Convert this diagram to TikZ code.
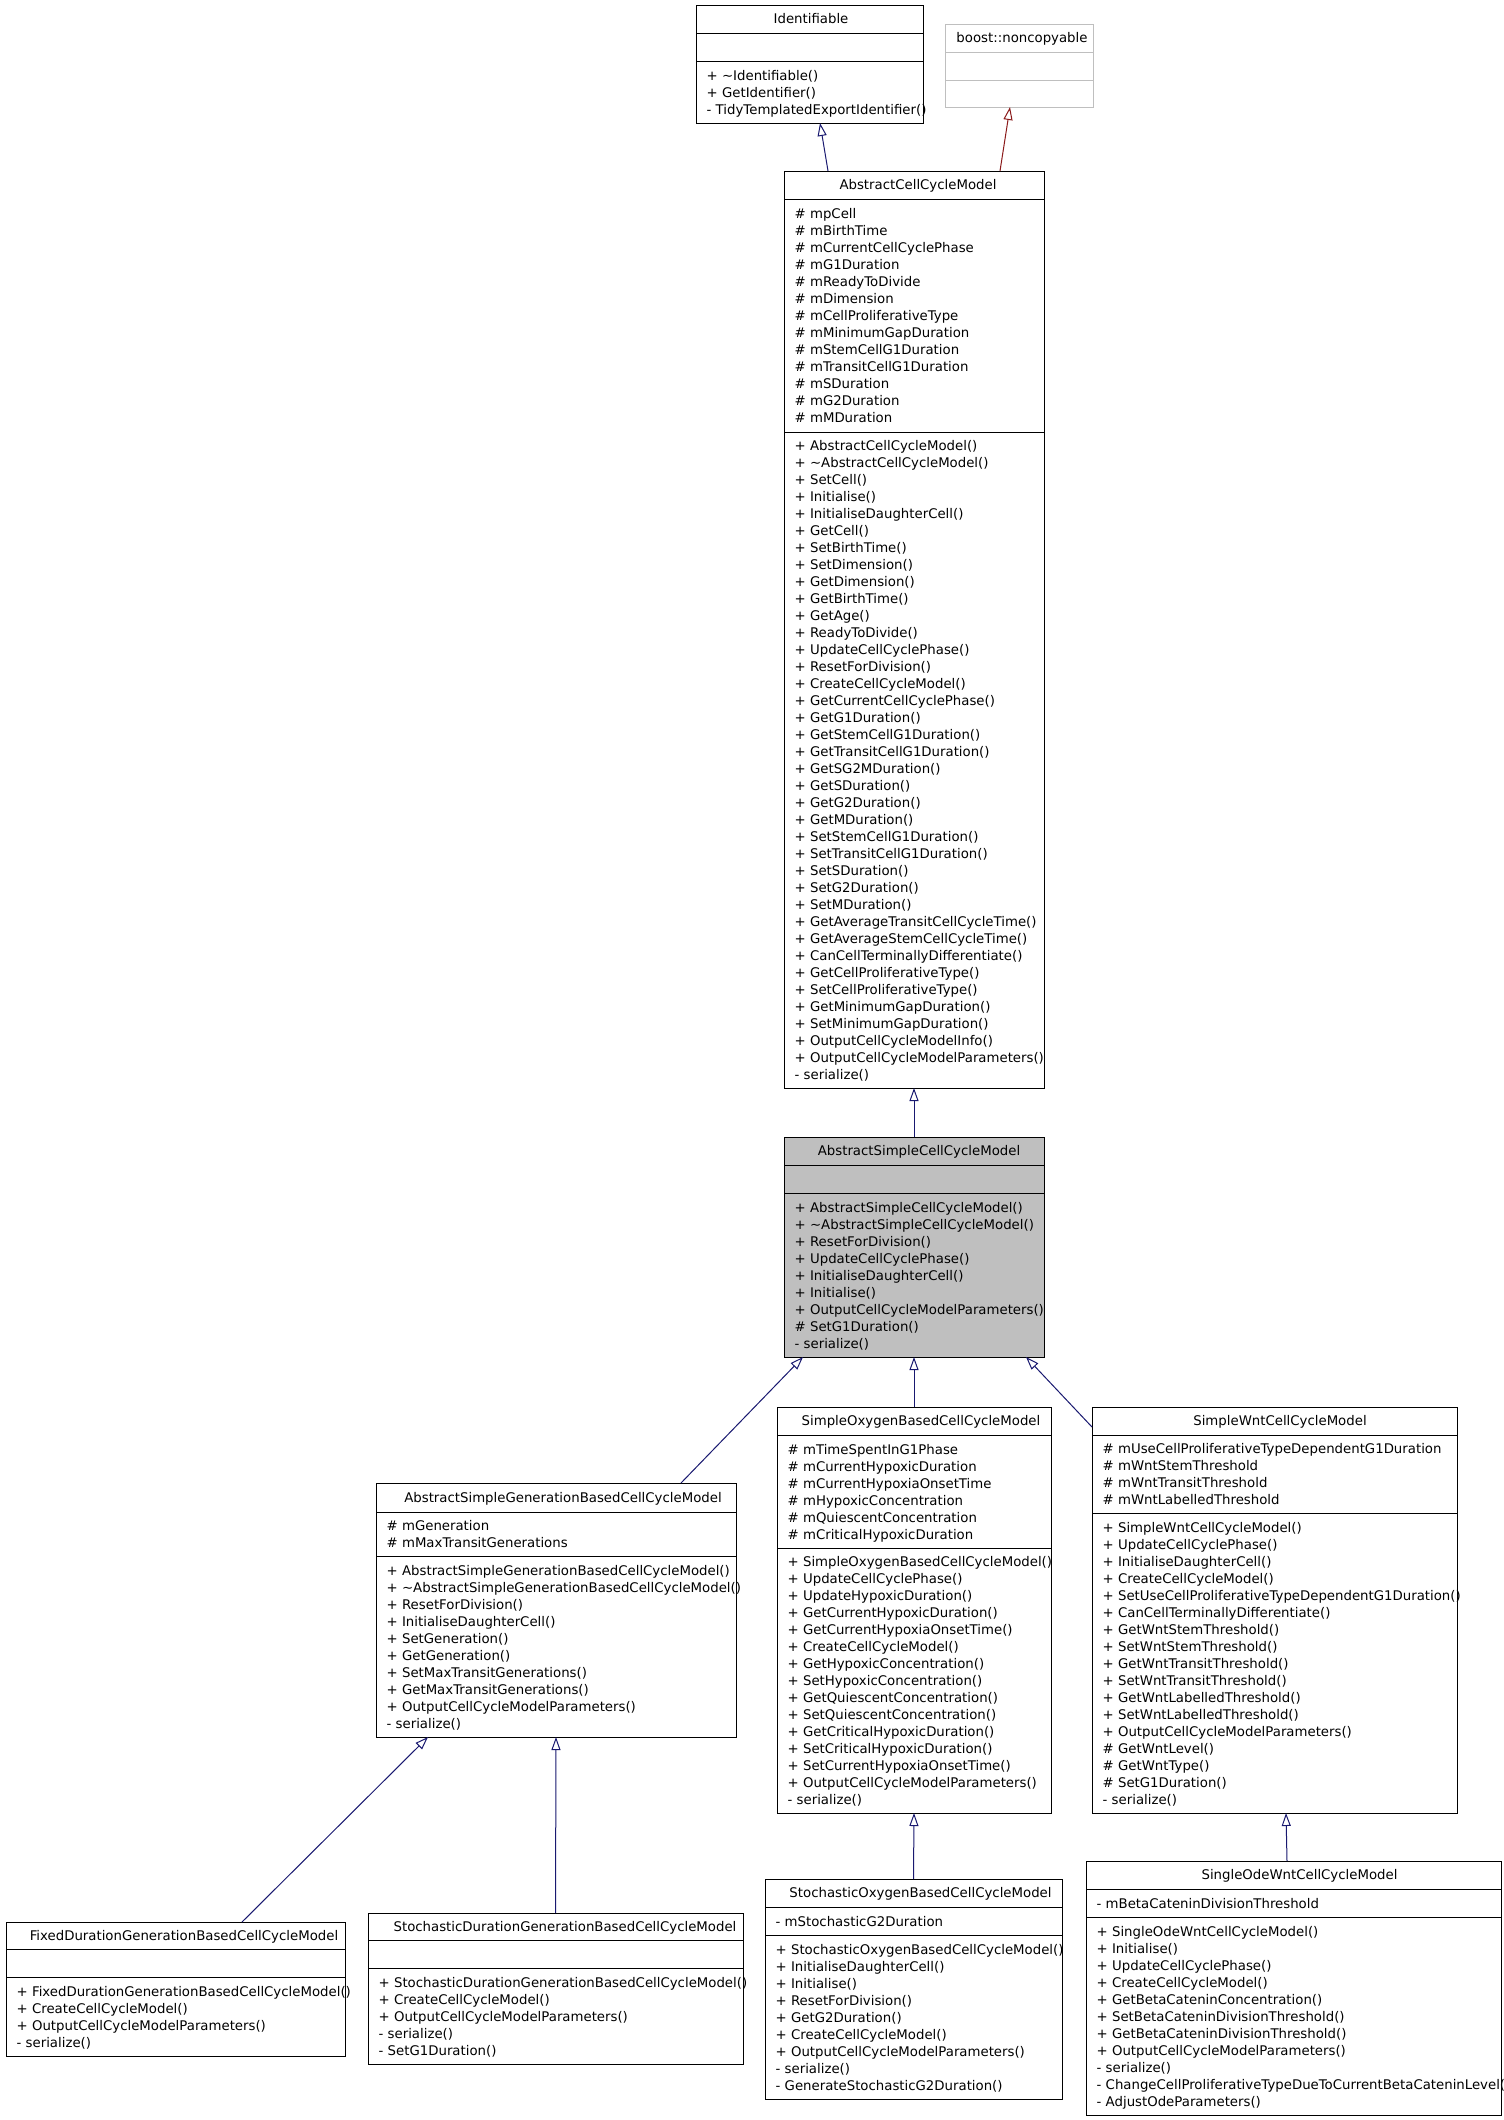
\documentclass[tikz,border=0pt]{standalone}
\usepackage{fontspec}
\setmainfont{DejaVu Sans}
\usetikzlibrary{arrows.meta}
\definecolor{navy}{HTML}{191970}
\definecolor{fbrick}{HTML}{8B1A1A}
\definecolor{dgray}{HTML}{BFBFBF}
\tikzset{
  cbox/.style={draw, line width=1pt, inner sep=0pt, outer sep=0pt, anchor=north west, fill=white},
  memtext/.style={anchor=north west, align=left, inner sep=0pt, font=\fontsize{13.3}{17}\selectfont},
  ttext/.style={anchor=base, inner sep=0pt, font=\fontsize{13.3}{17}\selectfont},
  rowline/.style={line width=1pt},
  inh/.style={draw=navy, line width=1pt, -{Triangle[open,length=13pt,width=9pt]}},
}
\newcommand\mlist[6]{\node[memtext] (#1) at ({#2+10.5},{#3+(#4-#3-(#5-1)*17)/2-8.15}) {\rule{0pt}{13pt}#6};}
\newcommand\ttl[4]{\node[ttext] (#1) at (#2,{#3+4.85}) {#4};}
\begin{document}
\begin{tikzpicture}[x=1pt,y=-1pt]
\useasboundingbox (0,0) rectangle (1504,2120);
\clip (0,0) rectangle (1504,2120);
\fill[white] (0,0) rectangle (1504,2120);

% ---------- boxes ----------
\node[cbox, minimum width=227pt, minimum height=118pt] (ident) at (696,5) {};
\node[cbox, draw=dgray, minimum width=148pt, minimum height=83pt] (nonc) at (945,24) {};
\node[cbox, minimum width=260pt, minimum height=917pt] (acm) at (784,171) {};
\node[cbox, fill=dgray, minimum width=260pt, minimum height=220pt] (ascm) at (784,1137) {};
\node[cbox, minimum width=360pt, minimum height=254pt] (gen) at (376,1483) {};
\node[cbox, minimum width=274pt, minimum height=406pt] (oxy) at (777,1407) {};
\node[cbox, minimum width=365pt, minimum height=406pt] (wnt) at (1092,1407) {};
\node[cbox, minimum width=339pt, minimum height=134pt] (fixed) at (6,1922) {};
\node[cbox, minimum width=375pt, minimum height=151pt] (sdur) at (368,1913) {};
\node[cbox, minimum width=297pt, minimum height=220pt] (soxy) at (765,1879) {};
\node[cbox, minimum width=415pt, minimum height=254pt] (sode) at (1086,1861) {};

% ---------- compartment lines ----------
\draw[rowline] (696,33) -- (923,33) (696,61) -- (923,61);
\draw[rowline, dgray] (945,52) -- (1093,52) (945,80) -- (1093,80);
\draw[rowline] (784,199) -- (1044,199) (784,432) -- (1044,432);
\draw[rowline] (784,1165) -- (1044,1165) (784,1193) -- (1044,1193);
\draw[rowline] (376,1512) -- (736,1512) (376,1556) -- (736,1556);
\draw[rowline] (777,1435) -- (1051,1435) (777,1548) -- (1051,1548);
\draw[rowline] (1092,1435) -- (1457,1435) (1092,1513) -- (1457,1513);
\draw[rowline] (6,1949) -- (345,1949) (6,1977) -- (345,1977);
\draw[rowline] (368,1940) -- (743,1940) (368,1968) -- (743,1968);
\draw[rowline] (765,1907) -- (1062,1907) (765,1935) -- (1062,1935);
\draw[rowline] (1086,1889) -- (1501,1889) (1086,1917) -- (1501,1917);

% ---------- titles ----------
\ttl{ident-t}{811}{19}{Identifiable}
\ttl{nonc-t}{1022}{38}{boost::noncopyable}
\ttl{acm-t}{918}{185}{AbstractCellCycleModel}
\ttl{ascm-t}{919}{1151}{AbstractSimpleCellCycleModel}
\ttl{gen-t}{563}{1497.5}{AbstractSimpleGenerationBasedCellCycleModel}
\ttl{oxy-t}{921}{1421}{SimpleOxygenBasedCellCycleModel}
\ttl{wnt-t}{1280}{1421}{SimpleWntCellCycleModel}
\ttl{fixed-t}{184}{1935.5}{FixedDurationGenerationBasedCellCycleModel}
\ttl{sdur-t}{565}{1926.5}{StochasticDurationGenerationBasedCellCycleModel}
\ttl{soxy-t}{920.5}{1893}{StochasticOxygenBasedCellCycleModel}
\ttl{sode-t}{1299.5}{1875}{SingleOdeWntCellCycleModel}

% ---------- members ----------
\mlist{ident-m}{696}{61}{123}{3}{+ \textasciitilde Identifiable()\\+ GetIdentifier()\\- TidyTemplatedExportIdentifier()}

\mlist{acm-a}{784}{199}{432}{13}{\# mpCell\\\# mBirthTime\\\# mCurrentCellCyclePhase\\\# mG1Duration\\\# mReadyToDivide\\\# mDimension\\\# mCellProliferativeType\\\# mMinimumGapDuration\\\# mStemCellG1Duration\\\# mTransitCellG1Duration\\\# mSDuration\\\# mG2Duration\\\# mMDuration}

\mlist{acm-m}{784}{432}{1088}{38}{+ AbstractCellCycleModel()\\+ \textasciitilde AbstractCellCycleModel()\\+ SetCell()\\+ Initialise()\\+ InitialiseDaughterCell()\\+ GetCell()\\+ SetBirthTime()\\+ SetDimension()\\+ GetDimension()\\+ GetBirthTime()\\+ GetAge()\\+ ReadyToDivide()\\+ UpdateCellCyclePhase()\\+ ResetForDivision()\\+ CreateCellCycleModel()\\+ GetCurrentCellCyclePhase()\\+ GetG1Duration()\\+ GetStemCellG1Duration()\\+ GetTransitCellG1Duration()\\+ GetSG2MDuration()\\+ GetSDuration()\\+ GetG2Duration()\\+ GetMDuration()\\+ SetStemCellG1Duration()\\+ SetTransitCellG1Duration()\\+ SetSDuration()\\+ SetG2Duration()\\+ SetMDuration()\\+ GetAverageTransitCellCycleTime()\\+ GetAverageStemCellCycleTime()\\+ CanCellTerminallyDifferentiate()\\+ GetCellProliferativeType()\\+ SetCellProliferativeType()\\+ GetMinimumGapDuration()\\+ SetMinimumGapDuration()\\+ OutputCellCycleModelInfo()\\+ OutputCellCycleModelParameters()\\- serialize()}

\mlist{ascm-m}{784}{1193}{1357}{9}{+ AbstractSimpleCellCycleModel()\\+ \textasciitilde AbstractSimpleCellCycleModel()\\+ ResetForDivision()\\+ UpdateCellCyclePhase()\\+ InitialiseDaughterCell()\\+ Initialise()\\+ OutputCellCycleModelParameters()\\\# SetG1Duration()\\- serialize()}

\mlist{gen-a}{376}{1512}{1556}{2}{\# mGeneration\\\# mMaxTransitGenerations}
\mlist{gen-m}{376}{1556}{1737}{10}{+ AbstractSimpleGenerationBasedCellCycleModel()\\+ \textasciitilde AbstractSimpleGenerationBasedCellCycleModel()\\+ ResetForDivision()\\+ InitialiseDaughterCell()\\+ SetGeneration()\\+ GetGeneration()\\+ SetMaxTransitGenerations()\\+ GetMaxTransitGenerations()\\+ OutputCellCycleModelParameters()\\- serialize()}

\mlist{oxy-a}{777}{1435}{1548}{6}{\# mTimeSpentInG1Phase\\\# mCurrentHypoxicDuration\\\# mCurrentHypoxiaOnsetTime\\\# mHypoxicConcentration\\\# mQuiescentConcentration\\\# mCriticalHypoxicDuration}
\mlist{oxy-m}{777}{1548}{1813}{15}{+ SimpleOxygenBasedCellCycleModel()\\+ UpdateCellCyclePhase()\\+ UpdateHypoxicDuration()\\+ GetCurrentHypoxicDuration()\\+ GetCurrentHypoxiaOnsetTime()\\+ CreateCellCycleModel()\\+ GetHypoxicConcentration()\\+ SetHypoxicConcentration()\\+ GetQuiescentConcentration()\\+ SetQuiescentConcentration()\\+ GetCriticalHypoxicDuration()\\+ SetCriticalHypoxicDuration()\\+ SetCurrentHypoxiaOnsetTime()\\+ OutputCellCycleModelParameters()\\- serialize()}

\mlist{wnt-a}{1092}{1435}{1513}{4}{\# mUseCellProliferativeTypeDependentG1Duration\\\# mWntStemThreshold\\\# mWntTransitThreshold\\\# mWntLabelledThreshold}
\mlist{wnt-m}{1092}{1513}{1813}{17}{+ SimpleWntCellCycleModel()\\+ UpdateCellCyclePhase()\\+ InitialiseDaughterCell()\\+ CreateCellCycleModel()\\+ SetUseCellProliferativeTypeDependentG1Duration()\\+ CanCellTerminallyDifferentiate()\\+ GetWntStemThreshold()\\+ SetWntStemThreshold()\\+ GetWntTransitThreshold()\\+ SetWntTransitThreshold()\\+ GetWntLabelledThreshold()\\+ SetWntLabelledThreshold()\\+ OutputCellCycleModelParameters()\\\# GetWntLevel()\\\# GetWntType()\\\# SetG1Duration()\\- serialize()}

\mlist{fixed-m}{6}{1977}{2056}{4}{+ FixedDurationGenerationBasedCellCycleModel()\\+ CreateCellCycleModel()\\+ OutputCellCycleModelParameters()\\- serialize()}

\mlist{sdur-m}{368}{1968}{2064}{5}{+ StochasticDurationGenerationBasedCellCycleModel()\\+ CreateCellCycleModel()\\+ OutputCellCycleModelParameters()\\- serialize()\\- SetG1Duration()}

\mlist{soxy-a}{765}{1907}{1935}{1}{- mStochasticG2Duration}
\mlist{soxy-m}{765}{1935}{2099}{9}{+ StochasticOxygenBasedCellCycleModel()\\+ InitialiseDaughterCell()\\+ Initialise()\\+ ResetForDivision()\\+ GetG2Duration()\\+ CreateCellCycleModel()\\+ OutputCellCycleModelParameters()\\- serialize()\\- GenerateStochasticG2Duration()}

\mlist{sode-a}{1086}{1889}{1917}{1}{- mBetaCateninDivisionThreshold}
\mlist{sode-m}{1086}{1917}{2115}{11}{+ SingleOdeWntCellCycleModel()\\+ Initialise()\\+ UpdateCellCyclePhase()\\+ CreateCellCycleModel()\\+ GetBetaCateninConcentration()\\+ SetBetaCateninDivisionThreshold()\\+ GetBetaCateninDivisionThreshold()\\+ OutputCellCycleModelParameters()\\- serialize()\\- ChangeCellProliferativeTypeDueToCurrentBetaCateninLevel()\\- AdjustOdeParameters()}

% ---------- inheritance connectors ----------
\draw[inh] ([xshift=-86pt]acm.north) -- ([xshift=10.5pt]ident.south);
\draw[inh, draw=fbrick] ([xshift=86pt]acm.north) -- ([xshift=-9pt]nonc.south);
\draw[inh] (ascm.north) -- (acm.south);
\draw[inh] ([xshift=125pt]gen.north) -- ([xshift=-111pt]ascm.south);
\draw[inh] (oxy.north) -- (ascm.south);
\draw[inh] ([yshift=-20pt]wnt.north west) -- ([xshift=112pt]ascm.south);
\draw[inh] ([xshift=66.5pt]fixed.north) -- ([xshift=-128pt]gen.south);
\draw[inh] (sdur.north) -- (gen.south);
\draw[inh] (soxy.north) -- (oxy.south);
\draw[inh] ([xshift=-6.5pt]sode.north) -- ([xshift=11.5pt]wnt.south);
\end{tikzpicture}
\end{document}
